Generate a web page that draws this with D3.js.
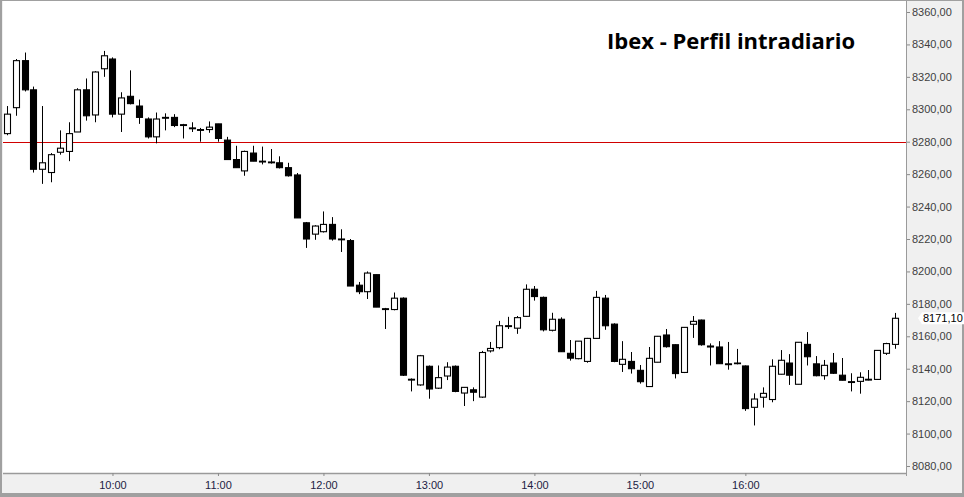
<!DOCTYPE html>
<html>
<head>
<meta charset="utf-8">
<script src="https://cdn.jsdelivr.net/npm/d3@7"></script>
<style>
  html, body { margin: 0; padding: 0; background: #fff; }
  svg { display: block; }
</style>
</head>
<body>
<div id="chart"></div>
<script>
// 5-minute candles, 09:00 .. 17:25
const times = [
  "09:00","09:05","09:10","09:15","09:20","09:25","09:30","09:35","09:40","09:45","09:50","09:55",
  "10:00","10:05","10:10","10:15","10:20","10:25","10:30","10:35","10:40","10:45","10:50","10:55",
  "11:00","11:05","11:10","11:15","11:20","11:25","11:30","11:35","11:40","11:45","11:50","11:55",
  "12:00","12:05","12:10","12:15","12:20","12:25","12:30","12:35","12:40","12:45","12:50","12:55",
  "13:00","13:05","13:10","13:15","13:20","13:25","13:30","13:35","13:40","13:45","13:50","13:55",
  "14:00","14:05","14:10","14:15","14:20","14:25","14:30","14:35","14:40","14:45","14:50","14:55",
  "15:00","15:05","15:10","15:15","15:20","15:25","15:30","15:35","15:40","15:45","15:50","15:55",
  "16:00","16:05","16:10","16:15","16:20","16:25","16:30","16:35","16:40","16:45","16:50","16:55",
  "17:00","17:05","17:10","17:15","17:20","17:25"
]

const open = [
  8285, 8301, 8330, 8312, 8263, 8261, 8273.5, 8274, 8286, 8312, 8296.5, 8325,
  8331, 8297, 8308, 8302, 8294, 8283, 8295, 8295, 8290.5, 8288.5, 8287.5, 8287.5,
  8291, 8281, 8269, 8262, 8273, 8268, 8267.5, 8267, 8264, 8259.5, 8230, 8223,
  8224.5, 8229, 8220, 8219, 8191.5, 8187.5, 8198, 8177, 8176.5, 8183.5, 8133.5, 8130,
  8141.5, 8128, 8135.5, 8141.5, 8125, 8127, 8122.5, 8151, 8153, 8166.5, 8165, 8172.3,
  8189, 8184, 8163.7, 8170.5, 8149.5, 8146.2, 8144.5, 8158.7, 8183.5, 8167.5, 8142.7, 8144.5,
  8139, 8129, 8144, 8160.8, 8154.8, 8137.7, 8167.4, 8170, 8154, 8153.4, 8143, 8143.5,
  8141.7, 8116.2, 8122.4, 8121, 8136.6, 8143.5, 8130.4, 8155, 8143, 8135.7, 8143.5, 8136,
  8132, 8132.2, 8133.5, 8133.4, 8149.5, 8155
]

const high = [
  8302, 8331, 8335, 8314, 8302, 8273, 8287, 8292, 8313, 8319, 8323.5, 8336,
  8332, 8310.5, 8324, 8306, 8295, 8298, 8297.5, 8297, 8291, 8292, 8288.5, 8292.5,
  8291, 8283, 8277.5, 8274.5, 8277.5, 8277, 8275.5, 8271, 8267, 8260.7, 8230.5, 8228.5,
  8237, 8233.5, 8226, 8220, 8193.5, 8200, 8198, 8177.5, 8187, 8184, 8134, 8148.5,
  8142, 8142, 8144, 8142, 8128.5, 8128.5, 8151, 8156.5, 8169.5, 8172, 8172.5, 8192,
  8191, 8184.5, 8174.5, 8171.7, 8157.7, 8157, 8159, 8188, 8185.5, 8168, 8157, 8150.3,
  8142.3, 8153.4, 8160.2, 8164.5, 8155, 8165.5, 8172.5, 8170.3, 8155.6, 8157, 8156.5, 8152.2,
  8142, 8124.8, 8128.5, 8145.8, 8151.5, 8149, 8156.3, 8162.6, 8147.8, 8145.4, 8149.7, 8146.6,
  8137.2, 8137.8, 8139.2, 8151.3, 8156, 8174.4
]

const low = [
  8284, 8296, 8311, 8261, 8254, 8255, 8272, 8268, 8286, 8293, 8292, 8320,
  8295, 8286, 8303, 8291, 8282, 8279, 8287, 8289, 8282, 8286, 8280, 8285.5,
  8280, 8269, 8264, 8259, 8268, 8266, 8266.5, 8263.5, 8258.5, 8233, 8214.5, 8219.5,
  8224, 8219, 8212, 8191, 8186, 8183, 8178, 8164.5, 8176, 8135.5, 8126, 8129.5,
  8121.5, 8127.5, 8133, 8125.5, 8117, 8120, 8122, 8150, 8152, 8164.5, 8161.5, 8172,
  8182, 8163, 8163, 8150.3, 8145, 8145.8, 8143.7, 8158.5, 8164, 8144, 8138, 8137,
  8130.8, 8128.9, 8144, 8153, 8134, 8137.3, 8159, 8154.2, 8142, 8143, 8139.4, 8142.7,
  8114, 8105, 8116, 8119.3, 8136.5, 8130, 8130.4, 8142, 8135.3, 8133.2, 8136.8, 8132.8,
  8126, 8124.6, 8132.8, 8133.4, 8148.5, 8152.3
]

const close = [
  8297, 8330, 8312, 8263, 8267, 8272, 8276, 8285, 8312, 8296, 8323, 8333,
  8297, 8307, 8303.5, 8295, 8283, 8294, 8294.5, 8290, 8290, 8288, 8287, 8289,
  8282, 8269, 8264, 8274, 8268, 8267.5, 8267, 8264, 8259, 8233, 8220, 8228,
  8229, 8220, 8219.5, 8191, 8187.5, 8199, 8178, 8176.5, 8183.5, 8136, 8133, 8148,
  8127.5, 8134.5, 8141, 8126, 8128.5, 8125.5, 8150, 8152.5, 8166.5, 8166, 8171.5, 8189,
  8184.5, 8164, 8170.5, 8150.5, 8146.5, 8157, 8158.7, 8184, 8166.5, 8144.5, 8145.8, 8140,
  8132, 8146.4, 8160, 8153.6, 8137, 8165.5, 8169.2, 8154.8, 8153.4, 8143.1, 8142.5, 8143.1,
  8115.4, 8121.3, 8124.8, 8141.5, 8145.2, 8136, 8156.3, 8147.4, 8135.7, 8142.1, 8137.2, 8132.9,
  8131.5, 8134.7, 8133, 8151.3, 8155.5, 8171.1
]

const priceTicks = [8080, 8100, 8120, 8140, 8160, 8180, 8200, 8220, 8240, 8260, 8280, 8300, 8320, 8340, 8360]
const timeTicks = ["10:00", "11:00", "12:00", "13:00", "14:00", "15:00", "16:00"]
const refLevel = 8280
const lastPrice = 8171.1
const title = "Ibex - Perfil intradiario"

const width = 964
const height = 497
const plot = { left: 3, top: 1, right: 906, bottom: 473 }

const parseTime = d3.timeParse("%H:%M")
const candles = times.map((t, i) => ({
  t: parseTime(t), o: open[i], h: high[i], l: low[i], c: close[i]
}))

const x = d3.scaleTime()
  .domain([parseTime("09:00"), parseTime("17:25")])
  .range([7, 894.8])

const y = d3.scaleLinear()
  .domain([8080, 8360])
  .range([466, 12])

const commaFmt = d => d3.format(".2f")(d).replace(".", ",")

const svg = d3.select("#chart")
  .append("svg")
  .attr("width", width)
  .attr("height", height)
  .attr("viewBox", `0 0 ${width} ${height}`)

// frame + panel backgrounds
svg.append("rect").attr("x", 0).attr("y", 0).attr("width", width).attr("height", height).attr("fill", "#f0f0f0")
svg.append("rect")
  .attr("x", plot.left).attr("y", plot.top)
  .attr("width", plot.right - plot.left).attr("height", plot.bottom - plot.top)
  .attr("fill", "#ffffff")

// outer border
svg.append("rect").attr("x", 0).attr("y", 0).attr("width", 2).attr("height", height).attr("fill", "#a0a0a0")
svg.append("rect").attr("x", 0).attr("y", 0).attr("width", width).attr("height", 1).attr("fill", "#a0a0a0")
svg.append("rect").attr("x", 0).attr("y", 493).attr("width", width).attr("height", 4).attr("fill", "#a0a0a0")
svg.append("rect").attr("x", 962).attr("y", 0).attr("width", 2).attr("height", height).attr("fill", "#a0a0a0")

// panel edges
svg.append("line")
  .attr("x1", plot.left).attr("x2", plot.right)
  .attr("y1", plot.bottom + 0.5).attr("y2", plot.bottom + 0.5)
  .attr("stroke", "#9a9a9a").attr("stroke-width", 1.5)
svg.append("line")
  .attr("x1", plot.right + 0.5).attr("x2", plot.right + 0.5)
  .attr("y1", plot.top).attr("y2", plot.bottom + 3)
  .attr("stroke", "#9a9a9a").attr("stroke-width", 1)

// reference level
svg.append("line")
  .attr("x1", plot.left).attr("x2", plot.right)
  .attr("y1", Math.round(y(refLevel)) + 0.5).attr("y2", Math.round(y(refLevel)) + 0.5)
  .attr("stroke", "#d00000").attr("stroke-width", 1)

// candles
const g = svg.append("g")
candles.forEach(d => {
  const cx = Math.round(x(d.t)) + 0.5
  g.append("line")
    .attr("x1", cx).attr("x2", cx)
    .attr("y1", y(d.h)).attr("y2", y(d.l))
    .attr("stroke", "#000").attr("stroke-width", 1)
  const top = y(Math.max(d.o, d.c))
  const bodyH = Math.max(Math.abs(y(d.o) - y(d.c)), 0.6)
  g.append("rect")
    .attr("x", cx - 3).attr("y", top)
    .attr("width", 6).attr("height", bodyH)
    .attr("fill", d.c >= d.o ? "#ffffff" : "#000000")
    .attr("stroke", "#000").attr("stroke-width", 1.1)
})

// right price axis
const yAxis = svg.append("g")
  .attr("transform", `translate(${plot.right + 1},0)`)
  .call(d3.axisRight(y).tickValues(priceTicks).tickSize(3).tickPadding(2).tickFormat(commaFmt))
yAxis.select(".domain").remove()
yAxis.selectAll(".tick line").attr("stroke", "#8a8a8a")
yAxis.selectAll("text")
  .attr("fill", "#404040")
  .attr("font-family", "'Liberation Sans', Arial, sans-serif")
  .attr("font-size", "11px")

// last price tag
const ly = y(lastPrice)
svg.append("path")
  .attr("d", `M918,${ly} L922,${ly - 6} L964,${ly - 6} L964,${ly + 6} L922,${ly + 6} Z`)
  .attr("fill", "#ffffff")
svg.append("text")
  .attr("x", 923).attr("y", ly + 4)
  .attr("fill", "#000")
  .attr("font-family", "'Liberation Sans', Arial, sans-serif")
  .attr("font-size", "11px")
  .text(commaFmt(lastPrice))

// bottom time axis
const xAxis = svg.append("g")
  .attr("transform", `translate(0,${plot.bottom})`)
  .call(d3.axisBottom(x)
    .tickValues(timeTicks.map(parseTime))
    .tickSize(3).tickPadding(5)
    .tickFormat(d3.timeFormat("%H:%M")))
xAxis.select(".domain").remove()
xAxis.selectAll(".tick line").attr("stroke", "#8a8a8a")
xAxis.selectAll("text")
  .attr("fill", "#222244")
  .attr("font-family", "'Liberation Sans', Arial, sans-serif")
  .attr("font-size", "11px")

// title
svg.append("text")
  .attr("x", 607).attr("y", 49)
  .attr("font-family", "'Open Sans', 'Noto Sans', sans-serif")
  .attr("font-weight", "bold")
  .attr("font-size", "22px")
  .attr("fill", "#000")
  .text(title)
</script>
</body>
</html>
